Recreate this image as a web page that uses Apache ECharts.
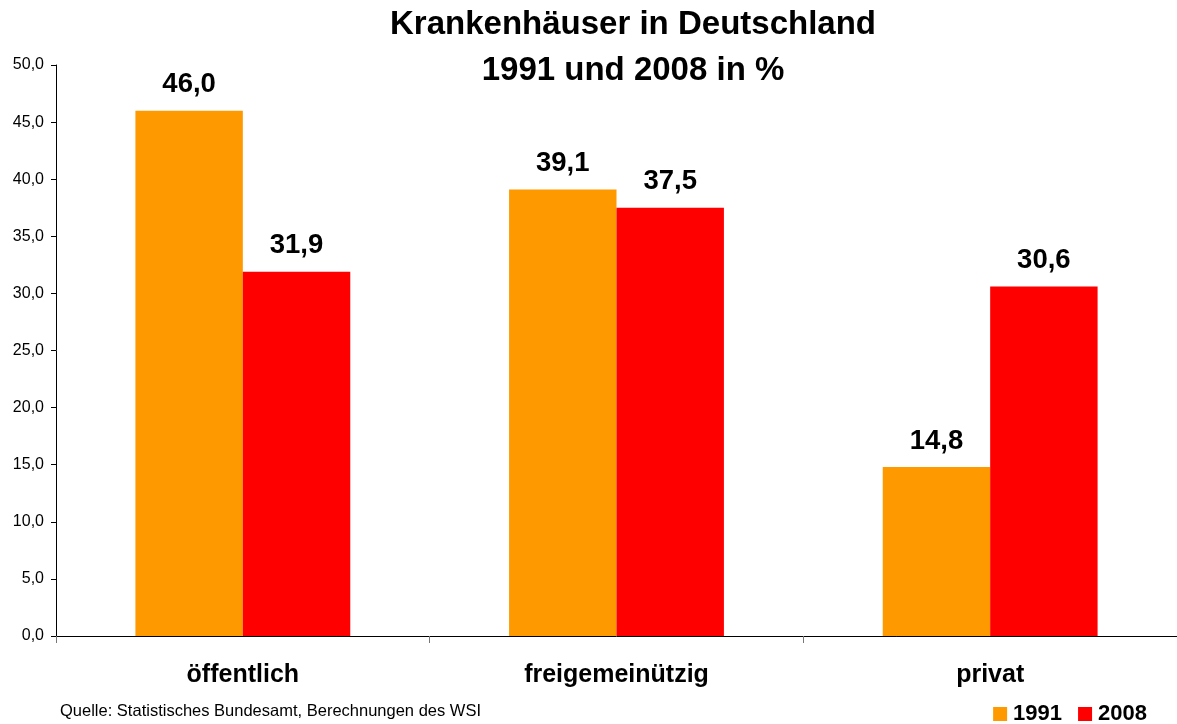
<!DOCTYPE html>
<html>
<head>
<meta charset="utf-8">
<script src="https://cdn.jsdelivr.net/npm/echarts@6/dist/echarts.min.js"></script>
<style>
html, body { margin: 0; padding: 0; background: #fff; }
#chart { width: 1177px; height: 724px; }
</style>
</head>
<body>
<div id="chart"></div>
<script>
// Kategorien und Werte (Anteile in %)
var categories = ['öffentlich', 'freigemeinützig', 'privat'];
var values1991 = [46.0, 39.1, 14.8];
var values2008 = [31.9, 37.5, 30.6];
var seriesNames = ['1991', '2008'];

function komma(v) {
	return Number(v).toFixed(1).replace('.', ',');
}

var myChart = echarts.init(document.getElementById('chart'));
var font = 'Liberation Sans, Arial, sans-serif';

var option = {
	animation: false,
	backgroundColor: '#fff',
	title: {
		text: 'Krankenhäuser in Deutschland\n1991 und 2008 in %',
		left: 628,
		textAlign: 'center',
		top: -3,
		textStyle: {
			fontFamily: font,
			fontSize: 33,
			fontWeight: 'bold',
			color: '#000',
			lineHeight: 46
		}
	},
	legend: {
		right: 25,
		bottom: -6,
		itemWidth: 14,
		itemHeight: 14,
		itemGap: 16,
		icon: 'rect',
		textStyle: {
			fontFamily: font,
			fontSize: 22,
			fontWeight: 'bold',
			color: '#000',
			padding: [0, 0, 0, 1]
		},
		data: seriesNames
	},
	graphic: [{
		type: 'text',
		left: 60,
		top: 703,
		style: {
			text: 'Quelle: Statistisches Bundesamt, Berechnungen des WSI',
			font: '16.5px ' + font,
			fill: '#000'
		}
	}],
	grid: {
		left: 56,
		right: -2,
		top: 65,
		bottom: 88,
		containLabel: false
	},
	xAxis: {
		type: 'category',
		data: categories,
		axisLine: { lineStyle: { color: '#000', width: 1 } },
		axisTick: { show: true, length: 7, lineStyle: { color: '#777' } },
		axisLabel: {
			margin: 27,
			fontFamily: font,
			fontSize: 25,
			fontWeight: 'bold',
			color: '#000'
		}
	},
	yAxis: {
		type: 'value',
		min: 0,
		max: 50,
		interval: 5,
		axisLine: { show: true, lineStyle: { color: '#000', width: 1 } },
		axisTick: { show: true, length: 5, lineStyle: { color: '#000' } },
		splitLine: { show: false },
		axisLabel: {
			margin: 12,
			fontFamily: font,
			fontSize: 16,
			color: '#000',
			formatter: komma
		}
	},
	series: [{
		name: seriesNames[0],
		type: 'bar',
		data: values1991,
		barGap: '0%',
		barCategoryGap: '42.5%',
		itemStyle: { color: '#FF9900' },
		label: {
			show: true,
			position: 'top',
			distance: 12,
			fontFamily: font,
			fontSize: 27.5,
			fontWeight: 'bold',
			color: '#000',
			formatter: function(p) { return komma(p.value); }
		}
	}, {
		name: seriesNames[1],
		type: 'bar',
		data: values2008,
		barGap: '0%',
		barCategoryGap: '42.5%',
		itemStyle: { color: '#FF0000' },
		label: {
			show: true,
			position: 'top',
			distance: 12,
			fontFamily: font,
			fontSize: 27.5,
			fontWeight: 'bold',
			color: '#000',
			formatter: function(p) { return komma(p.value); }
		}
	}]
};

myChart.setOption(option);
</script>
</body>
</html>
